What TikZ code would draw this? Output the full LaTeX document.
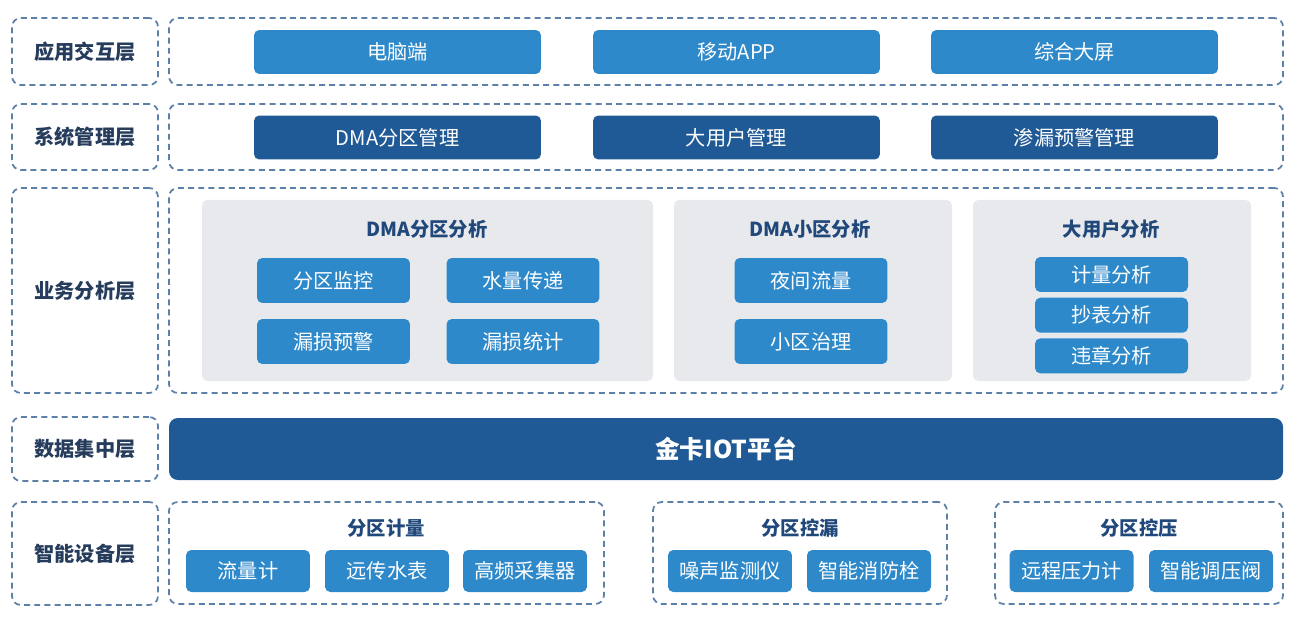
\documentclass[tikz,border=0pt]{standalone}
\usepackage{fontspec}
\setmainfont{Noto Sans CJK SC}
\usepackage{xcolor}
\usepackage{tikz}
\usetikzlibrary{positioning, fit}
\definecolor{btnblue}  {RGB}{46,  137, 202}
\definecolor{btndark}  {RGB}{32,  90,  150}
\definecolor{dashblue} {RGB}{92,  128, 168}
\definecolor{panelgray}{RGB}{232, 233, 236}
\definecolor{titleblue}{RGB}{32,  72,  122}
\definecolor{tagnavy}  {RGB}{38,  60,  92}
\tikzset{
  layerbox/.style={
    draw=dashblue, line width=1pt, dash pattern=on 3.4pt off 2.4pt,
    rounded corners=5pt, inner sep=0pt
  },
  tagtext/.style={
    text=tagnavy, font=\fontsize{11.5}{13}\selectfont\bfseries
  },
  panelbox/.style={
    fill=panelgray, rounded corners=3pt, inner sep=0pt
  },
  paneltitle/.style={
    text=titleblue, font=\fontsize{11}{13}\selectfont\bfseries
  },
  appbtn/.style={
    fill=btnblue, rounded corners=3pt, text=white,
    minimum width=5.74cm, minimum height=0.88cm,
    font=\fontsize{11.5}{13}\selectfont
  },
  mgmtbtn/.style={
    appbtn, fill=btndark
  },
  anabtn/.style={
    appbtn, minimum width=3.06cm, minimum height=0.9cm
  },
  userbtn/.style={
    appbtn, minimum width=3.06cm, minimum height=0.7cm
  },
  devbtn/.style={
    appbtn, minimum width=2.48cm, minimum height=0.84cm
  },
  iotbar/.style={
    fill=btndark, rounded corners=5pt, inner sep=0pt
  },
  iottext/.style={
    text=white, font=\fontsize{14}{16}\selectfont\bfseries
  },
}

\begin{document}
\begin{tikzpicture}[x=0.02cm, y=-0.02cm]
  \useasboundingbox (0,0) rectangle (1291,618);

  % Layer tags
  \node[layerbox, fit={(12,18) (158,85)}]   (tag1) {};
  \node[layerbox, fit={(12,104) (158,170)}] (tag2) {};
  \node[layerbox, fit={(12,188) (158,393)}] (tag3) {};
  \node[layerbox, fit={(12,417) (158,481)}] (tag4) {};
  \node[layerbox, fit={(12,502) (158,605)}] (tag5) {};
  \node[tagtext] at (tag1.center) {应用交互层};
  \node[tagtext] at (tag2.center) {系统管理层};
  \node[tagtext] at (tag3.center) {业务分析层};
  \node[tagtext] at (tag4.center) {数据集中层};
  \node[tagtext] at (tag5.center) {智能设备层};

  % Application layer
  \node[layerbox, fit={(169,18) (1283,85)}] (app) {};
  \node[appbtn] (pc)     at (397.5,52) {电脑端};
  \node[appbtn] (mobile) at (736.5,52) {移动APP};
  \node[appbtn] (screen) at (1074.5,52) {综合大屏};

  % Management layer
  \node[layerbox, fit={(169,104) (1283,170)}] (mgmt) {};
  \node[mgmtbtn] (dmamgmt)  at (397.5,137.5) {DMA分区管理};
  \node[mgmtbtn] (usermgmt) at (736.5,137.5) {大用户管理};
  \node[mgmtbtn] (leakmgmt) at (1074.5,137.5) {渗漏预警管理};

  % Analysis layer
  \node[layerbox, fit={(169,188) (1283,393)}] (ana) {};
  \node[panelbox, fit={(202,200) (653,381)}] (pzone) {};
  \node[panelbox, fit={(674,200) (952,381)}] (pdist) {};
  \node[panelbox, fit={(973,200) (1251,381)}] (puser) {};

  \node[paneltitle] (tzone) at (427,229) {DMA分区分析};
  \node[anabtn] (monitor)  at (333.5,280.5) {分区监控};
  \node[anabtn] (transfer) at (523,280.5) {水量传递};
  \node[anabtn] (warn)     at (333.5,341.5) {漏损预警};
  \node[anabtn] (stat)     at (523,341.5) {漏损统计};

  \node[paneltitle] (tdist) at (810,229) {DMA小区分析};
  \node[anabtn] (night)  at (811,280.5) {夜间流量};
  \node[anabtn] (govern) at (811,341.5) {小区治理};

  \node[paneltitle] (tuser) at (1111,229) {大用户分析};
  \node[userbtn] (meter) at (1111.5,274.5) {计量分析};
  \node[userbtn, below=0.1cm of meter] (read)    {抄表分析};
  \node[userbtn, below=0.1cm of read]  (violate) {违章分析};

  % Data layer
  \node[iotbar, fit={(169,418) (1283,480)}] (iot) {};
  \node[iottext] at (iot.center) {金卡IOT平台};

  % Device layer
  \node[layerbox, fit={(169,502) (604,604)}] (gmeter) {};
  \node[paneltitle] at (386,528) (tmeter) {分区计量};
  \node[devbtn] (flow)   at (248,571) {流量计};
  \node[devbtn] (remote) at (387,571) {远传水表};
  \node[devbtn] (hifreq) at (525,571) {高频采集器};

  \node[layerbox, fit={(653,502) (947,604)}] (gleak) {};
  \node[paneltitle] at (800,528) (tleak) {分区控漏};
  \node[devbtn] (noise)   at (730,571) {噪声监测仪};
  \node[devbtn] (hydrant) at (869,571) {智能消防栓};

  \node[layerbox, fit={(995,502) (1283,604)}] (gpress) {};
  \node[paneltitle] at (1139,528) (tpress) {分区控压};
  \node[devbtn] (gauge) at (1071.5,571) {远程压力计};
  \node[devbtn] (valve) at (1211,571) {智能调压阀};
\end{tikzpicture}
\end{document}
